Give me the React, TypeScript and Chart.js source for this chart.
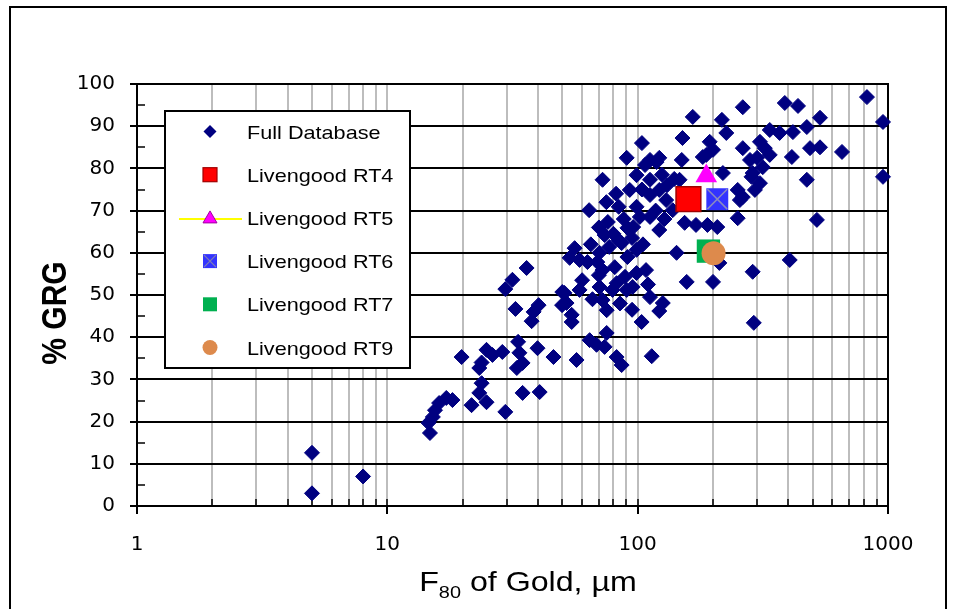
import React, { useEffect, useRef } from 'react';
import { Chart, registerables } from 'chart.js';

Chart.register(...registerables);

// ---------- Data ----------
const fullDatabaseF80 = [
  5, 5, 8, 14.6, 14.8, 15.2, 15.5, 16.1, 17.2, 18.2,
  19.8, 21.7, 23.3, 23.8, 24.9, 23.3, 23.8, 24.9, 26.3, 28.8,
  29.6, 34.7, 40.6, 33.3, 33.7, 34.7, 32.9, 39.8, 46.1, 57.0,
  36.0, 31.6, 29.6, 32.5, 40.2, 38.4, 37.7, 51.0, 52.0, 54.5,
  54.5, 49.9, 53.5, 58.6, 64.3, 68.5, 75.2, 73.8, 82.4, 86.3,
  113.8, 103.7, 122, 126, 75.2, 72.4, 79.4, 95.5, 50.0, 58.6,
  70.4, 82.4, 90.4, 112, 70.4, 77, 86.3, 91, 99, 72.4,
  81, 89, 99, 108, 84, 143, 157, 200, 212, 288,
  405, 291, 520, 474, 955, 955, 824, 387, 437, 263,
  166, 217, 226, 535, 151, 194, 104, 337, 369, 417,
  474, 263, 308, 322, 337, 488, 535, 655, 413, 90.4,
  72.4, 112, 122, 150, 182, 200, 219, 99, 112, 281,
  288, 308, 263, 256, 251, 64, 75, 76, 84, 93,
  99, 102, 96, 112, 122, 130, 138, 154, 171, 190,
  208, 188, 300, 316, 285, 294, 251, 107, 112, 131,
  73.8, 91, 69, 70, 63, 119, 56, 122, 147,
  65, 80, 95, 105, 88, 70, 118, 128, 104, 82,
  60, 66, 85, 95, 140, 125, 110,
];
const fullDatabaseGRG = [
  12.6, 3, 7, 19.7, 17.3, 21.1, 22.7, 24.4, 25.6, 25.1,
  35.3, 23.9, 26.8, 29.1, 24.6, 32.7, 34.0, 37.0, 35.8, 36.5,
  22.3, 26.8, 27.0, 38.9, 36.3, 33.9, 32.7, 37.4, 35.3, 34.6,
  56.4, 53.6, 51.4, 46.7, 47.6, 46.0, 43.8, 50.5, 48.1, 45.3,
  43.6, 47.6, 58.8, 58.3, 39.3, 38.2, 41.0, 37.7, 35.3, 33.4,
  35.5, 43.6, 46.2, 48.1, 46.4, 48.8, 51.2, 51.9, 50.7, 51.2,
  51.9, 52.8, 51.2, 49.5, 60, 61.4, 62.3, 59, 60.7, 55.9,
  56.6, 54.3, 55.2, 55.9, 63, 60, 53.1, 53.1, 57.6, 55.5,
  58.3, 43.4, 67.8, 77.3, 78, 91, 96.9, 95.5, 94.8, 94.5,
  92.2, 91.5, 88.4, 92, 87.2, 86.3, 86, 89.1, 88.4, 88.6,
  89.8, 84.8, 86.3, 84.8, 83.2, 84.8, 85, 83.9, 82.7, 82.5,
  77.3, 82, 82.5, 82, 82.7, 84.4, 78.9, 78.4, 77.3, 82,
  78.9, 76.5, 73.2, 72.5, 68.2, 70.1, 72, 67.3, 70.9, 74.9,
  70.9, 68.5, 66.1, 68.5, 65.4, 72.5, 70.1, 67.1, 66.6, 66.6,
  66.1, 83.2, 82.5, 80.3, 78, 74.9, 74.9, 80.8, 73.7, 76,
  64.2, 65.9, 57.8, 54.7, 57.8, 81.5, 61.1, 74.9, 77.3,
  62, 64.5, 63.5, 62, 68, 66, 70, 68, 75, 74,
  53.5, 49, 48, 46.5, 77.5, 78.5, 52.5,
];

const rt4F80 = [159.5];
const rt4GRG = [72.7];
const rt5F80 = [188];
const rt5GRG = [78.2];
const rt6F80 = [208];
const rt6GRG = [72.7];
const rt7F80 = [191.7];
const rt7GRG = [60.4];
const rt9F80 = [201];
const rt9GRG = [59.9];

const xLabelValues = [1, 10, 100, 1000];
const xGridMultipliers = [1, 2, 3, 4, 5, 6, 7, 8, 9];
const yMin = 0;
const yMax = 100;

const legendLabels = [
  'Full Database',
  'Livengood RT4',
  'Livengood RT5',
  'Livengood RT6',
  'Livengood RT7',
  'Livengood RT9',
];
const xTitleMain = 'F';
const xTitleSub = '80';
const xTitleRest = ' of Gold, µm';
const yTitle = '% GRG';

// ---------- helpers ----------
const toPoints = (xs: number[], ys: number[]) => xs.map((x, i) => ({ x, y: ys[i] }));

const xGridValues: number[] = [];
xLabelValues.slice(0, -1).forEach((d) => xGridMultipliers.forEach((m) => xGridValues.push(d * m)));
xGridValues.push(xLabelValues[xLabelValues.length - 1]);

const SX = 1.17; // horizontal stretch of the reference's text
const ARIAL = '"Liberation Sans", Arial, sans-serif';

function stretchedText(ctx: CanvasRenderingContext2D, text: string, x: number, y: number, font: string, align: 'left' | 'center' = 'left') {
  ctx.save();
  ctx.font = font;
  ctx.textBaseline = 'alphabetic';
  ctx.textAlign = 'left';
  const w = ctx.measureText(text).width * SX;
  const x0 = align === 'center' ? x - w / 2 : x;
  ctx.translate(x0, y);
  ctx.scale(SX, 1);
  ctx.fillText(text, 0, 0);
  ctx.restore();
  return w;
}

const decorPlugin = {
  id: 'decor',
  beforeDatasetsDraw(chart: any) {
    const { ctx, chartArea: a, scales } = chart;
    ctx.save();
    ctx.strokeStyle = '#000';
    ctx.lineWidth = 1.5;
    // inward x ticks
    for (const t of scales.x.ticks) {
      const px = Math.round(scales.x.getPixelForValue(t.value));
      ctx.beginPath();
      ctx.moveTo(px, a.bottom);
      ctx.lineTo(px, a.bottom - 7);
      ctx.stroke();
    }
    // inward minor y ticks
    for (const t of scales.y.ticks) {
      if (t.value % 10 !== 0) {
        const py = Math.round(scales.y.getPixelForValue(t.value));
        ctx.beginPath();
        ctx.moveTo(a.left, py);
        ctx.lineTo(a.left + 8, py);
        ctx.stroke();
      }
    }
    // plot area border
    ctx.lineWidth = 2;
    ctx.strokeRect(a.left, a.top, a.right - a.left, a.bottom - a.top);
    ctx.restore();
  },
  afterDraw(chart: any) {
    const { ctx } = chart;
    ctx.save();
    // outer frame
    ctx.strokeStyle = '#000';
    ctx.lineWidth = 2;
    ctx.strokeRect(10, 7, 936, 640);

    // legend box
    const lx = 165, ly = 111, lw = 245, lh = 257;
    ctx.fillStyle = '#fff';
    ctx.fillRect(lx, ly, lw, lh);
    ctx.strokeStyle = '#000';
    ctx.lineWidth = 2;
    ctx.strokeRect(lx, ly, lw, lh);

    const mx = 210;
    const tx = 247;
    legendLabels.forEach((label, i) => {
      const y = 131.5 + i * 43.2;
      ctx.save();
      if (i === 0) {
        ctx.fillStyle = '#000080';
        ctx.beginPath();
        ctx.moveTo(mx - 6.5, y);
        ctx.lineTo(mx, y - 6.5);
        ctx.lineTo(mx + 6.5, y);
        ctx.lineTo(mx, y + 6.5);
        ctx.closePath();
        ctx.fill();
      } else if (i === 1) {
        ctx.fillStyle = '#FF0000';
        ctx.fillRect(mx - 7, y - 7, 14, 14);
        ctx.strokeStyle = '#A00000';
        ctx.lineWidth = 1.2;
        ctx.strokeRect(mx - 7, y - 7, 14, 14);
      } else if (i === 2) {
        ctx.strokeStyle = '#FFFF00';
        ctx.lineWidth = 2;
        ctx.beginPath();
        ctx.moveTo(179, y + 1);
        ctx.lineTo(242, y + 1);
        ctx.stroke();
        ctx.fillStyle = '#FF00FF';
        ctx.strokeStyle = '#A000A0';
        ctx.lineWidth = 1;
        ctx.beginPath();
        ctx.moveTo(mx, y - 7);
        ctx.lineTo(mx + 7, y + 5);
        ctx.lineTo(mx - 7, y + 5);
        ctx.closePath();
        ctx.fill();
        ctx.stroke();
      } else if (i === 3) {
        ctx.fillStyle = '#3333FF';
        ctx.fillRect(mx - 7, y - 7, 14, 14);
        ctx.strokeStyle = '#8080B0';
        ctx.lineWidth = 1.2;
        ctx.beginPath();
        ctx.moveTo(mx - 6, y - 6);
        ctx.lineTo(mx + 6, y + 6);
        ctx.moveTo(mx + 6, y - 6);
        ctx.lineTo(mx - 6, y + 6);
        ctx.stroke();
      } else if (i === 4) {
        ctx.fillStyle = '#00B050';
        ctx.fillRect(mx - 7, y - 7, 14, 14);
      } else {
        ctx.fillStyle = '#DD8A4C';
        ctx.beginPath();
        ctx.arc(mx, y, 7.5, 0, Math.PI * 2);
        ctx.fill();
      }
      ctx.restore();
      ctx.fillStyle = '#000';
      stretchedText(ctx, label, tx, y + 7, `18.5px ${ARIAL}`);
    });

    // x title with subscript
    ctx.fillStyle = '#000';
    const mainFont = `27.5px ${ARIAL}`;
    const subFont = `17px ${ARIAL}`;
    ctx.font = mainFont;
    const wF = ctx.measureText(xTitleMain).width * SX;
    const wR = ctx.measureText(xTitleRest).width * SX;
    ctx.font = subFont;
    const wS = ctx.measureText(xTitleSub).width * SX;
    const total = wF + wS + wR;
    let x0 = 528 - total / 2;
    stretchedText(ctx, xTitleMain, x0, 591, mainFont);
    x0 += wF;
    stretchedText(ctx, xTitleSub, x0, 598, subFont);
    x0 += wS;
    stretchedText(ctx, xTitleRest, x0, 591, mainFont);

    // y title (rotated, bold)
    ctx.save();
    ctx.translate(56, 313);
    ctx.scale(SX, 1);
    ctx.rotate(-Math.PI / 2);
    ctx.font = `bold 30px ${ARIAL}`;
    ctx.textAlign = 'center';
    ctx.textBaseline = 'middle';
    ctx.fillText(yTitle, 0, 0);
    ctx.restore();

    ctx.restore();
  },
};

export default function App() {
  const canvasRef = useRef<HTMLCanvasElement | null>(null);

  useEffect(() => {
    const canvas = canvasRef.current;
    if (!canvas) return;
    const tickFont = { family: '"DejaVu Sans", sans-serif', size: 20 };

    const chart = new Chart(canvas, {
      type: 'scatter',
      data: {
        datasets: [
          {
            label: legendLabels[5],
            data: toPoints(rt9F80, rt9GRG),
            pointStyle: 'circle',
            pointRadius: 12,
            backgroundColor: '#DD8A4C',
            borderColor: '#DD8A4C',
            borderWidth: 0,
            order: 1,
            clip: false,
          },
          {
            label: legendLabels[4],
            data: toPoints(rt7F80, rt7GRG),
            pointStyle: 'rect',
            pointRadius: 16.5,
            backgroundColor: '#00B050',
            borderColor: '#00B050',
            borderWidth: 0,
            order: 2,
            clip: false,
          },
          {
            label: 'RT6 cross',
            data: toPoints(rt6F80, rt6GRG),
            pointStyle: 'crossRot',
            pointRadius: 14,
            backgroundColor: 'rgba(0,0,0,0)',
            borderColor: '#8a8ac0',
            borderWidth: 1.5,
            order: 3,
            clip: false,
          },
          {
            label: legendLabels[3],
            data: toPoints(rt6F80, rt6GRG),
            pointStyle: 'rect',
            pointRadius: 15.5,
            backgroundColor: '#3333FF',
            borderColor: '#3333FF',
            borderWidth: 0,
            order: 4,
            clip: false,
          },
          {
            label: legendLabels[2],
            data: toPoints(rt5F80, rt5GRG),
            pointStyle: 'triangle',
            pointRadius: 12.5,
            backgroundColor: '#FF00FF',
            borderColor: '#FF00FF',
            borderWidth: 0,
            order: 5,
            clip: false,
          },
          {
            label: legendLabels[1],
            data: toPoints(rt4F80, rt4GRG),
            pointStyle: 'rect',
            pointRadius: 17.5,
            backgroundColor: '#FF0000',
            borderColor: '#A00000',
            borderWidth: 1.5,
            order: 6,
            clip: false,
          },
          {
            label: legendLabels[0],
            data: toPoints(fullDatabaseF80, fullDatabaseGRG),
            pointStyle: 'rectRot',
            pointRadius: 7.5,
            backgroundColor: '#000080',
            borderColor: '#000080',
            borderWidth: 1,
            order: 10,
            clip: false,
          },
        ],
      },
      options: {
        responsive: false,
        animation: false,
        events: [],
        devicePixelRatio: 1,
        layout: { padding: { left: 0, right: 66, top: 84, bottom: 0 } },
        plugins: {
          legend: { display: false },
          tooltip: { enabled: false },
          title: { display: false },
        },
        scales: {
          x: {
            type: 'logarithmic',
            min: 1,
            max: 1000,
            afterBuildTicks: (scale: any) => {
              scale.ticks = xGridValues.map((v) => ({ value: v, major: xLabelValues.includes(v) }));
            },
            afterFit: (scale: any) => {
              scale.height = 103;
            },
            ticks: {
              autoSkip: false,
              maxRotation: 0,
              minRotation: 0,
              padding: 19,
              color: '#000',
              font: tickFont,
              callback: (v: any) => (xLabelValues.includes(Number(v)) ? String(v) : ''),
            },
            grid: {
              color: '#bdbdbd',
              lineWidth: 2,
              tickLength: 8,
              tickWidth: 2,
              tickColor: (c: any) => (xLabelValues.includes(c.tick?.value) ? '#000' : 'rgba(0,0,0,0)'),
            },
            border: { color: '#000', width: 2 },
          },
          y: {
            min: yMin,
            max: yMax,
            afterFit: (scale: any) => {
              scale.width = 137;
            },
            ticks: {
              stepSize: 5,
              autoSkip: false,
              padding: 15,
              color: '#000',
              font: tickFont,
              callback: (v: any) => (Number(v) % 10 === 0 ? String(v) : ''),
            },
            grid: {
              color: (c: any) => (c.tick && c.tick.value % 10 === 0 ? '#000' : 'rgba(0,0,0,0)'),
              lineWidth: 2,
              tickLength: 7,
              tickWidth: 2,
              tickColor: (c: any) => (c.tick && c.tick.value % 10 === 0 ? '#000' : 'rgba(0,0,0,0)'),
            },
            border: { color: '#000', width: 2 },
          },
        },
      } as any,
      plugins: [decorPlugin],
    });

    return () => {
      chart.destroy();
    };
  }, []);

  return (
    <div style={{ position: 'absolute', left: 0, top: 0, width: 954, height: 609, background: '#fff' }}>
      <canvas ref={canvasRef} width={954} height={609} style={{ display: 'block', width: 954, height: 609 }} />
    </div>
  );
}
